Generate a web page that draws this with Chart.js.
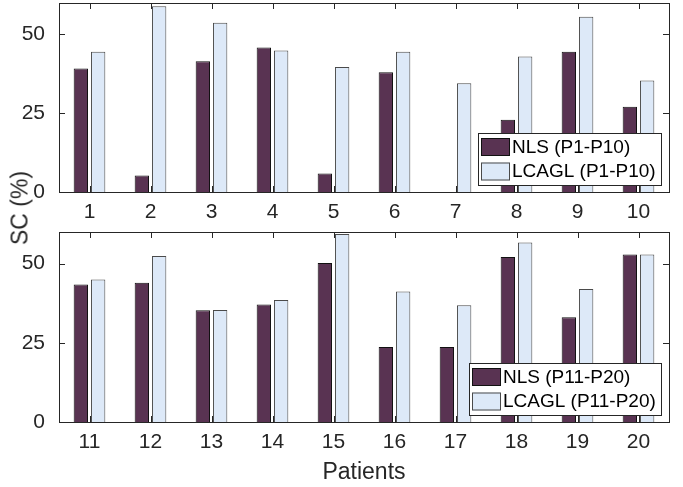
<!DOCTYPE html>
<html>
<head>
<meta charset="utf-8">
<script src="https://cdn.jsdelivr.net/npm/chart.js@4"></script>
<style>
  body { margin: 0; background: #fff; }
  #wrap { position: relative; width: 683px; height: 487px; background: #fff; }
  canvas { position: absolute; left: 0; }
  #ylab {
    position: absolute; left: 20px; top: 208px;
    transform: translate(-50%, -50%) rotate(-90deg);
    font: 23px 'Liberation Sans', Arial, sans-serif; color: #262626; white-space: nowrap;
  }
</style>
</head>
<body>
<div id="wrap">
  <canvas id="top-chart" width="683" height="220" style="top:0"></canvas>
  <canvas id="bottom-chart" width="683" height="267" style="top:220px"></canvas>
  <div id="ylab">SC (%)</div>
</div>
<script>
// values
var patientsTop = ['1', '2', '3', '4', '5', '6', '7', '8', '9', '10'];
var patientsBottom = ['11', '12', '13', '14', '15', '16', '17', '18', '19', '20'];
var nlsTop = [39.2, 5.2, 41.5, 45.9, 5.9, 38.0, 0, 22.9, 44.5, 27.1];
var lcaglTop = [44.5, 59.0, 53.7, 44.9, 39.7, 44.5, 34.5, 43.0, 55.6, 35.4];
var nlsBottom = [43.4, 44.0, 35.3, 37.1, 50.2, 23.7, 23.7, 52.1, 33.1, 52.9];
var lcaglBottom = [45.0, 52.4, 35.4, 38.5, 59.4, 41.2, 36.9, 56.7, 42.0, 52.9];
var yTicks = [0, 25, 50];

var AXIS = '#262626';
var NLS_COLOR = '#593352';
var LCAGL_COLOR = '#dde9f8';

Chart.defaults.font.family = "'Liberation Sans', Arial, sans-serif";
Chart.defaults.color = AXIS;

// matlab style box with inward ticks
var framePlugin = {
    id: 'frame',
    afterDatasetsDraw: function (chart) {
        var ctx = chart.ctx, a = chart.chartArea;
        var x = chart.scales.x, y = chart.scales.y;
        var len = 6;
        ctx.save();
        ctx.strokeStyle = AXIS;
        ctx.lineWidth = 1;
        ctx.beginPath();
        x.ticks.forEach(function (t, i) {
            var px = Math.round(x.getPixelForTick(i)) + 0.5;
            ctx.moveTo(px, a.top); ctx.lineTo(px, a.top + len);
            ctx.moveTo(px, a.bottom); ctx.lineTo(px, a.bottom - len);
        });
        y.ticks.forEach(function (t) {
            var py = Math.round(y.getPixelForValue(t.value)) + 0.5;
            ctx.moveTo(a.left, py); ctx.lineTo(a.left + len, py);
            ctx.moveTo(a.right, py); ctx.lineTo(a.right - len, py);
        });
        ctx.stroke();
        ctx.strokeRect(Math.round(a.left) + 0.5, Math.round(a.top) + 0.5,
            Math.round(a.right - a.left), Math.round(a.bottom - a.top));
        ctx.restore();

        // legend box in the lower right corner
        var ds = chart.data.datasets;
        ctx.save();
        ctx.font = "19px 'Liberation Sans', Arial, sans-serif";
        var tw = 0;
        ds.forEach(function (d) { tw = Math.max(tw, ctx.measureText(d.label).width); });
        var w = 3 + 29 + 2 + tw + 5, h = 52;
        var left = Math.round(a.right - 8 - w), top = Math.round(a.bottom - 7 - h);
        ctx.fillStyle = '#fff';
        ctx.fillRect(left, top, w, h);
        ctx.strokeStyle = AXIS;
        ctx.strokeRect(left + 0.5, top + 0.5, Math.round(w), h);
        ds.forEach(function (d, i) {
            var py = top + 5 + i * 24.5;
            ctx.fillStyle = d.backgroundColor;
            ctx.fillRect(left + 3, py, 29, 18);
            ctx.strokeStyle = d.borderColor;
            ctx.strokeRect(left + 3.5, py + 0.5, 28, 17);
            ctx.fillStyle = '#000';
            ctx.textBaseline = 'middle';
            ctx.fillText(d.label, left + 34, py + 9.5);
        });
        ctx.restore();
    }
};

function noPad(scale) {
    scale.paddingTop = 0;
    scale.paddingBottom = 0;
    scale.paddingLeft = 0;
    scale.paddingRight = 0;
}

function makeChart(id, labels, nls, lcagl, range, plotTop, xHeight, showTitle) {
    return new Chart(document.getElementById(id), {
        type: 'bar',
        data: {
            labels: labels,
            datasets: [{
                label: 'NLS (' + range + ')',
                data: nls,
                backgroundColor: NLS_COLOR,
                borderColor: '#111111',
                borderWidth: 1
            }, {
                label: 'LCAGL (' + range + ')',
                data: lcagl,
                backgroundColor: LCAGL_COLOR,
                borderColor: '#4a4a4a',
                borderWidth: 1
            }]
        },
        options: {
            responsive: false,
            animation: false,
            layout: { padding: { top: plotTop, right: 14, left: 0, bottom: 0 } },
            datasets: { bar: { categoryPercentage: 0.567, barPercentage: 0.83 } },
            plugins: { legend: { display: false }, tooltip: { enabled: false } },
            scales: {
                x: {
                    grid: { display: false },
                    border: { display: false },
                    ticks: { font: { size: 21 }, color: AXIS, padding: 0, maxRotation: 0 },
                    title: {
                        display: showTitle,
                        text: 'Patients',
                        font: { size: 23 },
                        color: AXIS,
                        padding: { top: 0, bottom: 1 }
                    },
                    afterFit: function (scale) { scale.height = xHeight; noPad(scale); }
                },
                y: {
                    min: 0,
                    max: 60,
                    grid: { display: false },
                    border: { display: false },
                    ticks: { font: { size: 21 }, color: AXIS, padding: 6 },
                    afterBuildTicks: function (scale) {
                        scale.ticks = yTicks.map(function (v) { return { value: v }; });
                    },
                    afterFit: function (scale) { scale.width = 59; noPad(scale); }
                }
            }
        },
        plugins: [framePlugin]
    });
}

makeChart('top-chart', patientsTop, nlsTop, lcaglTop, 'P1-P10', 3, 28, false);
makeChart('bottom-chart', patientsBottom, nlsBottom, lcaglBottom, 'P11-P20', 12, 65, true);
</script>
</body>
</html>
